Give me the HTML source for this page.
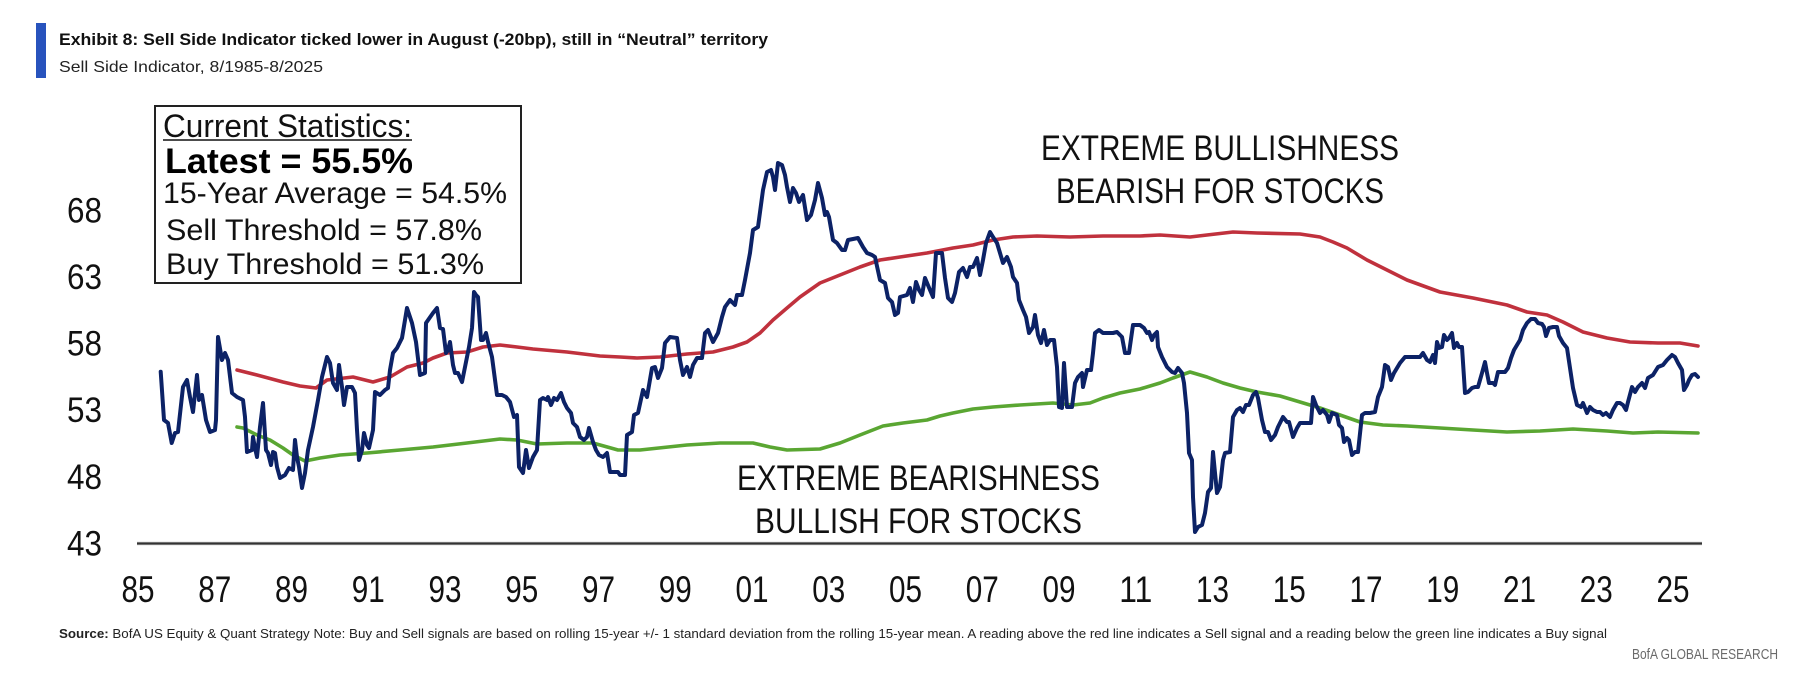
<!DOCTYPE html>
<html>
<head>
<meta charset="utf-8">
<style>
  html,body{margin:0;padding:0;background:#fff;}
  body{width:1800px;height:693px;overflow:hidden;}
  svg{display:block;}
  text{font-family:"Liberation Sans", Arial, sans-serif;}
</style>
</head>
<body>
<svg width="1800" height="693" viewBox="0 0 1800 693" xmlns="http://www.w3.org/2000/svg">
  <rect x="0" y="0" width="1800" height="693" fill="#fff"/>

  <!-- Header -->
  <rect x="36" y="23" width="10" height="55" fill="#2853bd"/>
  <text x="59" y="45" font-size="17" font-weight="bold" fill="#111" textLength="709" lengthAdjust="spacingAndGlyphs">Exhibit 8: Sell Side Indicator ticked lower in August (-20bp), still in “Neutral” territory</text>
  <text x="59" y="72" font-size="16" fill="#222" textLength="264" lengthAdjust="spacingAndGlyphs">Sell Side Indicator, 8/1985-8/2025</text>

  <!-- Y labels -->
  <g font-size="35" fill="#111">
    <text x="67" y="222.5" textLength="35" lengthAdjust="spacingAndGlyphs">68</text>
    <text x="67" y="289" textLength="35" lengthAdjust="spacingAndGlyphs">63</text>
    <text x="67" y="355.5" textLength="35" lengthAdjust="spacingAndGlyphs">58</text>
    <text x="67" y="422" textLength="35" lengthAdjust="spacingAndGlyphs">53</text>
    <text x="67" y="489" textLength="35" lengthAdjust="spacingAndGlyphs">48</text>
    <text x="67" y="555.5" textLength="35" lengthAdjust="spacingAndGlyphs">43</text>
  </g>

  <!-- X axis line -->
  <line x1="137" y1="543.5" x2="1702" y2="543.5" stroke="#888" stroke-width="3.2"/>
  <line x1="137" y1="543.5" x2="1702" y2="543.5" stroke="#333" stroke-width="1.6"/>

  <!-- X labels -->
  <g font-size="37" fill="#111">
    <text x="121.5" y="602" textLength="33" lengthAdjust="spacingAndGlyphs">85</text>
    <text x="198.25" y="602" textLength="33" lengthAdjust="spacingAndGlyphs">87</text>
    <text x="275" y="602" textLength="33" lengthAdjust="spacingAndGlyphs">89</text>
    <text x="351.75" y="602" textLength="33" lengthAdjust="spacingAndGlyphs">91</text>
    <text x="428.5" y="602" textLength="33" lengthAdjust="spacingAndGlyphs">93</text>
    <text x="505.25" y="602" textLength="33" lengthAdjust="spacingAndGlyphs">95</text>
    <text x="582" y="602" textLength="33" lengthAdjust="spacingAndGlyphs">97</text>
    <text x="658.75" y="602" textLength="33" lengthAdjust="spacingAndGlyphs">99</text>
    <text x="735.5" y="602" textLength="33" lengthAdjust="spacingAndGlyphs">01</text>
    <text x="812.25" y="602" textLength="33" lengthAdjust="spacingAndGlyphs">03</text>
    <text x="889" y="602" textLength="33" lengthAdjust="spacingAndGlyphs">05</text>
    <text x="965.75" y="602" textLength="33" lengthAdjust="spacingAndGlyphs">07</text>
    <text x="1042.5" y="602" textLength="33" lengthAdjust="spacingAndGlyphs">09</text>
    <text x="1119.25" y="602" textLength="33" lengthAdjust="spacingAndGlyphs">11</text>
    <text x="1196" y="602" textLength="33" lengthAdjust="spacingAndGlyphs">13</text>
    <text x="1272.75" y="602" textLength="33" lengthAdjust="spacingAndGlyphs">15</text>
    <text x="1349.5" y="602" textLength="33" lengthAdjust="spacingAndGlyphs">17</text>
    <text x="1426.25" y="602" textLength="33" lengthAdjust="spacingAndGlyphs">19</text>
    <text x="1503" y="602" textLength="33" lengthAdjust="spacingAndGlyphs">21</text>
    <text x="1579.75" y="602" textLength="33" lengthAdjust="spacingAndGlyphs">23</text>
    <text x="1656.5" y="602" textLength="33" lengthAdjust="spacingAndGlyphs">25</text>
  </g>

  <!-- Annotations -->
  <g font-size="35" fill="#111">
    <text x="1041" y="160" textLength="358" lengthAdjust="spacingAndGlyphs">EXTREME BULLISHNESS</text>
    <text x="1056" y="203" textLength="328" lengthAdjust="spacingAndGlyphs">BEARISH FOR STOCKS</text>
    <text x="737" y="490" textLength="363" lengthAdjust="spacingAndGlyphs">EXTREME BEARISHNESS</text>
    <text x="755" y="533" textLength="327" lengthAdjust="spacingAndGlyphs">BULLISH FOR STOCKS</text>
  </g>

  <!-- Red line (sell threshold) -->
  <polyline fill="none" stroke="#c0313d" stroke-width="3.6" stroke-linejoin="round" stroke-linecap="round"
    points="237,370 257,375 283,382 300,386 316,388 327,380 353,377 373,382 390,377 407,367 423,363 433,358 447,353 467,352 483,347 500,345 517,347 533,349 567,352 600,356 620,357 637,358 660,357 687,354 713,352 733,347 747,342 760,333 773,320 787,308 800,297 820,283 840,275 860,267 880,260 900,257 927,253 953,248 973,245 993,240 1013,237 1037,236 1070,237 1103,236 1140,236 1160,235 1190,237 1207,235 1233,232 1257,233 1300,234 1320,237 1333,242 1347,248 1367,260 1387,270 1407,280 1440,292 1473,298 1507,305 1527,312 1547,315 1563,322 1583,332 1607,338 1630,342 1658,343 1680,343 1698,346"/>

  <!-- Green line (buy threshold) -->
  <polyline fill="none" stroke="#5aa632" stroke-width="3.6" stroke-linejoin="round" stroke-linecap="round"
    points="237,427 243,428 257,435 270,440 283,448 293,455 305,461 320,458 340,455 367,453 400,450 433,447 467,443 500,439 517,440 537,444 567,443 593,443 618,450 640,450 687,445 720,443 753,443 770,447 787,450 820,449 840,443 860,435 883,426 903,423 927,420 940,416 953,413 973,409 993,407 1020,405 1053,403 1073,405 1090,403 1103,398 1120,393 1140,389 1160,383 1173,378 1190,372 1207,377 1223,383 1240,388 1257,392 1280,396 1300,402 1320,408 1340,415 1360,422 1383,425 1407,426 1440,428 1473,430 1507,432 1540,431 1573,429 1607,431 1633,433 1658,432 1698,433"/>

  <!-- Blue line (indicator) -->
  <polyline fill="none" stroke="#0c2266" stroke-width="4" stroke-linejoin="round" stroke-linecap="round"
    points="160.7,371.7 164,420 168,423 171.7,443 175,433 178,432 183,387 187,380 190,397 193,412 197,375 199,400 202,395 206,420 210,432 215,430 216,420 218,337 222,360 225,353 228,360 232,393 237,397 243,400 245,417 247,452 252,450 253,437 255,448 257,457 260,427 263,403 266,450 268,453 271,465 273,452 275,453 277,467 280,478 285,475 289,468 293,470 295,440 297,457 299,467 302,488 305,473 308,450 313,427 318,400 322,377 327,357 330,363 333,383 337,390 339,365 342,387 344,405 347,387 352,387 355,393 357,430 359,460 362,450 364,433 367,445 369,448 373,430 375,392 380,395 385,390 388,388 390,370 393,353 397,348 402,338 407,308 412,323 416,342 420,375 425,373 426,323 433,313 437,308 440,328 443,329 446,353 448,350 450,342 453,365 455,373 458,373 462,382 465,367 469,347 472,328 474,292 476,295 478,297 481,340 483,340 486,333 488,342 492,357 497,395 502,395 506,397 510,402 514,417 517,415 519,467 523,473 526,450 529,468 533,457 537,450 540,400 543,398 547,400 548,397 551,405 554,398 557,400 561,393 564,402 567,408 571,413 573,423 577,427 580,437 584,440 587,437 589,428 593,442 596,450 599,455 603,457 607,453 610,472 615,472 618,472 620,475 625,475 627,435 632,432 634,415 638,413 643,390 647,397 652,368 655,367 658,378 662,368 665,343 670,337 677,338 680,360 683,375 687,367 690,377 693,365 697,358 702,358 705,333 708,330 713,342 718,333 722,317 725,307 730,300 735,305 737,295 742,295 745,280 750,253 753,230 758,227 763,190 767,172 771,170 773,177 775,190 778,163 782,165 785,175 787,187 790,202 793,188 796,193 799,202 803,195 807,220 811,215 815,200 818,183 822,198 825,215 827,212 829,217 833,240 837,243 842,250 845,250 848,240 858,238 863,247 867,253 872,255 875,257 880,280 885,283 888,298 892,302 895,315 898,313 900,297 907,295 910,288 913,302 916,282 919,290 922,295 925,278 930,290 933,297 936,253 942,253 945,278 948,298 952,302 955,293 959,272 963,268 967,277 970,267 973,267 977,258 980,275 983,260 986,243 990,232 993,237 997,243 1000,253 1003,263 1007,257 1011,267 1013,277 1017,283 1019,300 1023,310 1026,317 1029,333 1033,327 1035,315 1038,335 1041,343 1044,330 1047,345 1050,340 1054,340 1057,367 1059,407 1062,408 1064,363 1067,407 1072,407 1075,383 1078,377 1082,373 1083,387 1087,370 1091,370 1093,353 1095,333 1099,330 1103,333 1113,333 1117,332 1122,337 1125,353 1129,353 1133,325 1138,325 1140,325 1144,328 1147,333 1149,332 1152,340 1154,335 1157,332 1158,347 1162,357 1167,367 1172,372 1175,373 1178,368 1182,373 1184,383 1187,413 1189,453 1192,460 1193,497 1195,532 1198,527 1202,525 1205,513 1208,492 1211,488 1213,452 1215,473 1217,493 1220,487 1223,460 1225,453 1230,452 1233,417 1237,410 1240,408 1243,412 1246,405 1249,405 1253,395 1256,392 1258,398 1262,420 1265,432 1268,432 1271,440 1275,435 1278,427 1283,417 1287,422 1289,422 1293,437 1297,428 1300,423 1307,423 1311,423 1313,397 1316,405 1320,413 1323,410 1327,415 1329,422 1332,413 1337,415 1339,425 1342,428 1344,442 1347,438 1349,440 1352,455 1355,452 1358,452 1362,415 1365,413 1370,413 1375,412 1378,397 1382,387 1385,365 1388,367 1391,380 1394,373 1397,368 1400,363 1405,357 1420,357 1423,353 1427,360 1430,362 1433,355 1435,363 1437,342 1439,348 1442,347 1444,335 1447,340 1449,338 1452,333 1454,348 1457,343 1459,347 1462,347 1465,393 1468,392 1472,388 1475,387 1478,387 1482,373 1485,362 1487,373 1489,383 1493,383 1495,385 1498,372 1505,372 1508,368 1511,358 1514,350 1517,345 1520,340 1523,330 1527,323 1531,319 1535,319 1538,323 1542,324 1544,327 1546,336 1549,328 1553,327 1557,327 1559,336 1563,343 1567,348 1570,368 1573,388 1577,405 1581,407 1583,403 1587,413 1590,407 1593,410 1597,412 1600,412 1603,415 1606,413 1610,417 1613,410 1617,403 1620,403 1623,405 1626,410 1628,402 1632,387 1635,392 1638,387 1642,383 1645,388 1648,378 1653,375 1658,367 1663,365 1667,360 1672,355 1675,357 1678,363 1682,370 1684,390 1687,385 1689,380 1692,375 1695,374 1698,377"/>

  <!-- Stats box -->
  <rect x="155" y="106" width="366" height="177" fill="#fff" stroke="#222" stroke-width="2"/>
  <text x="163" y="137" font-size="32" fill="#111" textLength="249" lengthAdjust="spacingAndGlyphs">Current Statistics:</text>
  <line x1="163" y1="140" x2="412" y2="140" stroke="#111" stroke-width="1.6"/>
  <text x="165" y="173" font-size="35" font-weight="bold" fill="#000" textLength="248" lengthAdjust="spacingAndGlyphs">Latest = 55.5%</text>
  <text x="163" y="203" font-size="30" fill="#111" textLength="344" lengthAdjust="spacingAndGlyphs">15-Year Average = 54.5%</text>
  <text x="166" y="240" font-size="30" fill="#111" textLength="316" lengthAdjust="spacingAndGlyphs">Sell Threshold = 57.8%</text>
  <text x="166" y="274" font-size="30" fill="#111" textLength="318" lengthAdjust="spacingAndGlyphs">Buy Threshold = 51.3%</text>

  <!-- Footer -->
  <text x="59" y="638" font-size="13" fill="#222" textLength="1548" lengthAdjust="spacingAndGlyphs"><tspan font-weight="bold">Source:</tspan> BofA US Equity &amp; Quant Strategy Note: Buy and Sell signals are based on rolling 15-year +/- 1 standard deviation from the rolling 15-year mean. A reading above the red line indicates a Sell signal and a reading below the green line indicates a Buy signal</text>
  <text x="1632" y="659" font-size="15" fill="#6a6a6a" textLength="146" lengthAdjust="spacingAndGlyphs">BofA GLOBAL RESEARCH</text>
</svg>
</body>
</html>
